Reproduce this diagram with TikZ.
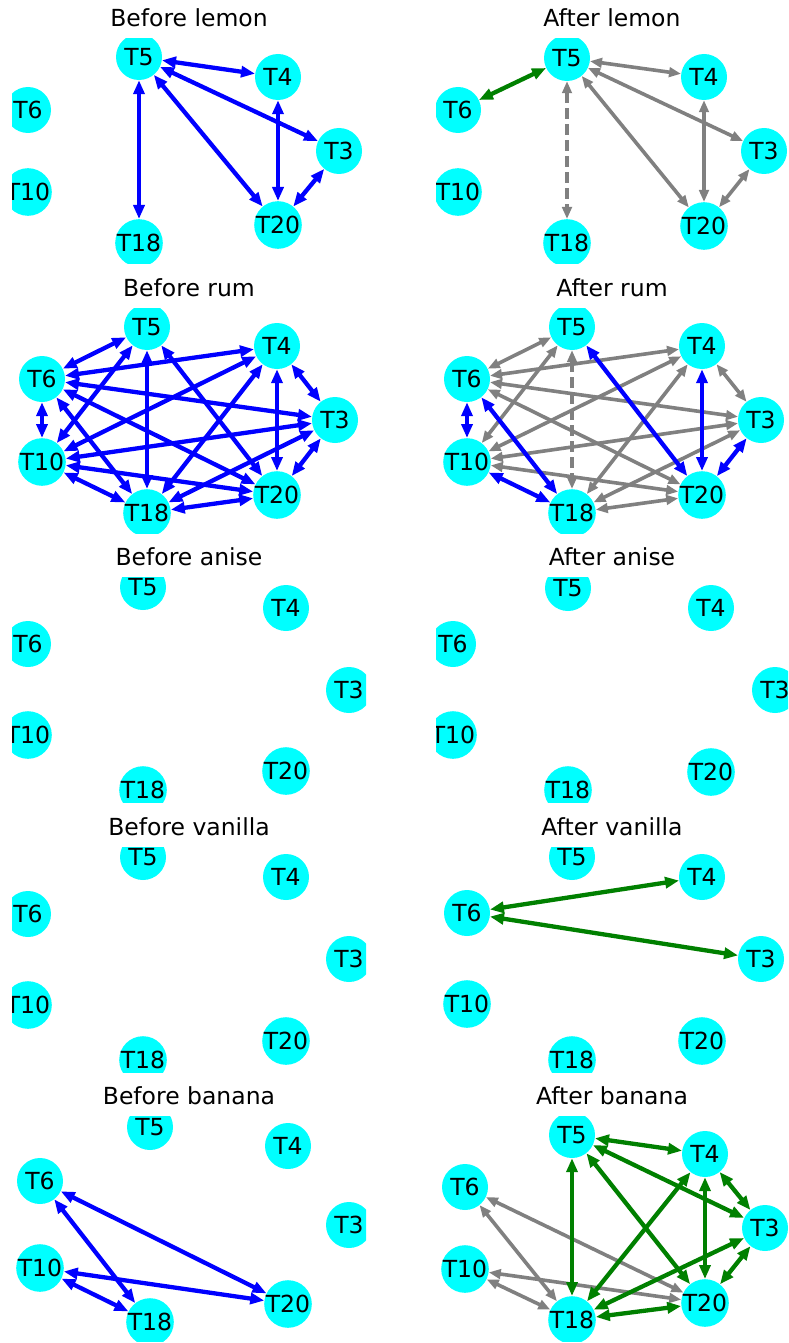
\documentclass[tikz,border=0pt]{standalone}
\usepackage{fontspec}
\setmainfont{DejaVu Sans}
\usetikzlibrary{arrows.meta}
\pgfdeclarelayer{paper}
\pgfdeclarelayer{bg}
\pgfsetlayers{paper,bg,main}
\definecolor{nxgreen}{RGB}{0,128,0}
\definecolor{nxgray}{RGB}{128,128,128}
\definecolor{nxcyan}{RGB}{0,255,255}
\definecolor{nxblue}{RGB}{0,0,255}
\newcommand\placenodes[8]{%
  \node[vert] (#1T5) at (#2) {T5};
  \node[vert] (#1T4) at (#3) {T4};
  \node[vert] (#1T3) at (#4) {T3};
  \node[vert] (#1T20) at (#5) {T20};
  \node[vert] (#1T18) at (#6) {T18};
  \node[vert] (#1T6) at (#7) {T6};
  \node[vert] (#1T10) at (#8) {T10};
}
\begin{document}
\begin{tikzpicture}[x=1pt,y=-1pt,
  vert/.style={circle,fill=nxcyan,minimum size=46pt,inner sep=0pt,font=\fontsize{23.5}{27}\selectfont},
  ttl/.style={anchor=base,inner sep=0pt,font=\fontsize{23.5}{28}\selectfont},
  bedge/.style={draw=nxblue,line width=4.3pt,{Triangle[length=14pt,width=11pt]}-{Triangle[length=14pt,width=11pt]}},
  gedge/.style={draw=nxgreen,line width=4.3pt,{Triangle[length=14pt,width=11pt]}-{Triangle[length=14pt,width=11pt]}},
  yedge/.style={draw=nxgray,line width=3.6pt,{Triangle[length=12pt,width=9.5pt]}-{Triangle[length=12pt,width=9.5pt]}},
  ydash/.style={yedge,dash pattern=on 11pt off 5pt}]
\useasboundingbox (0,0) rectangle (788,1343);
\begin{pgfonlayer}{paper}
\fill[white] (0,0) rectangle (788,1343);
\end{pgfonlayer}

% titles
\node[ttl] (t1) at (189,26.5) {Before lemon};
\node[ttl] (t2) at (612,26.5) {After lemon};
\node[ttl] (t3) at (189,296) {Before rum};
\node[ttl] (t4) at (612,296) {After rum};
\node[ttl] (t5) at (189,565.5) {Before anise};
\node[ttl] (t6) at (612,565.5) {After anise};
\node[ttl] (t7) at (189,835) {Before vanilla};
\node[ttl] (t8) at (612,835) {After vanilla};
\node[ttl] (t9) at (189,1104.5) {Before banana};
\node[ttl] (t10) at (612,1104.5) {After banana};

% Panel 1: Before lemon
\begin{scope}
\clip (12,38.5) rectangle (366,263.5);
\placenodes{a}{139,57}{278,77}{339,151}{278,225}{139,243}{28,110}{28,192}
\end{scope}
\begin{pgfonlayer}{bg}
\foreach \p/\q in {5/4,5/3,5/20,5/18,4/20,3/20} \draw[bedge] (aT\p) -- (aT\q);
\end{pgfonlayer}

% Panel 2: After lemon
\begin{scope}
\clip (436,38.5) rectangle (788,263.5);
\placenodes{b}{567,58}{704,77}{764,151}{704,226}{567,243}{458,110}{458,192}
\end{scope}
\begin{pgfonlayer}{bg}
\draw[gedge] (bT6) -- (bT5);
\foreach \p/\q in {5/4,5/3,5/20,4/20,3/20} \draw[yedge] (bT\p) -- (bT\q);
\draw[ydash] (bT5) -- (bT18);
\end{pgfonlayer}

% Panel 3: Before rum
\begin{scope}
\clip (12,308) rectangle (366,533);
\placenodes{c}{147,327}{277,346}{335,420}{277,495}{147,513}{42,379}{42,462}
\end{scope}
\begin{pgfonlayer}{bg}
\foreach \p/\q in {6/5,10/5,5/18,5/20,6/4,10/4,6/3,6/20,6/10,6/18,10/3,10/20,10/18,18/4,18/3,18/20,4/3,4/20,3/20}
  \draw[bedge] (cT\p) -- (cT\q);
\end{pgfonlayer}

% Panel 4: After rum
\begin{scope}
\clip (436,308) rectangle (788,533);
\placenodes{d}{572,327}{702,346}{761,420}{702,495}{572,513}{467,379}{467,462}
\end{scope}
\begin{pgfonlayer}{bg}
\foreach \p/\q in {6/5,10/5,6/4,10/4,6/3,10/3,6/20,10/20,18/4,18/3,18/20,4/3}
  \draw[yedge] (dT\p) -- (dT\q);
\draw[ydash] (dT5) -- (dT18);
\foreach \p/\q in {5/20,4/20,3/20,6/10,6/18,10/18}
  \draw[bedge] (dT\p) -- (dT\q);
\end{pgfonlayer}

% Panel 5: Before anise
\begin{scope}
\clip (12,577.5) rectangle (366,802.5);
\placenodes{e}{143,587}{286,608}{349,690}{286,771}{143,790}{28,644}{28,735}
\end{scope}

% Panel 6: After anise
\begin{scope}
\clip (436,577.5) rectangle (788,802.5);
\placenodes{f}{568,588}{711,608}{775,690}{711,772}{568,790}{453,644}{453,735}
\end{scope}

% Panel 7: Before vanilla
\begin{scope}
\clip (12,847) rectangle (366,1072);
\placenodes{g}{143,857}{286,877}{349,959}{286,1041}{143,1060}{28,914}{28,1005}
\end{scope}

% Panel 8: After vanilla
\begin{scope}
\clip (436,847) rectangle (788,1072);
\placenodes{h}{572,857}{702,877}{761,959}{702,1041}{572,1060}{467,913}{467,1004}
\end{scope}
\begin{pgfonlayer}{bg}
\draw[gedge] (hT6) -- (hT4);
\draw[gedge] (hT6) -- (hT3);
\end{pgfonlayer}

% Panel 9: Before banana
\begin{scope}
\clip (12,1116.5) rectangle (366,1341.5);
\placenodes{i}{150,1127}{288,1146}{349,1225}{288,1304}{150,1322}{40,1181}{40,1268}
\end{scope}
\begin{pgfonlayer}{bg}
\foreach \p/\q in {6/20,6/18,10/20,10/18} \draw[bedge] (iT\p) -- (iT\q);
\end{pgfonlayer}

% Panel 10: After banana
\begin{scope}
\clip (436,1116.5) rectangle (788,1341.5);
\placenodes{j}{572,1135}{705,1154}{765,1228}{705,1303}{572,1320}{465,1187}{465,1269}
\end{scope}
\begin{pgfonlayer}{bg}
\foreach \p/\q in {6/20,6/18,10/20,10/18} \draw[yedge] (jT\p) -- (jT\q);
\foreach \p/\q in {5/4,5/3,5/20,5/18,4/3,4/20,4/18,3/20,3/18,20/18} \draw[gedge] (jT\p) -- (jT\q);
\end{pgfonlayer}
\end{tikzpicture}
\end{document}
